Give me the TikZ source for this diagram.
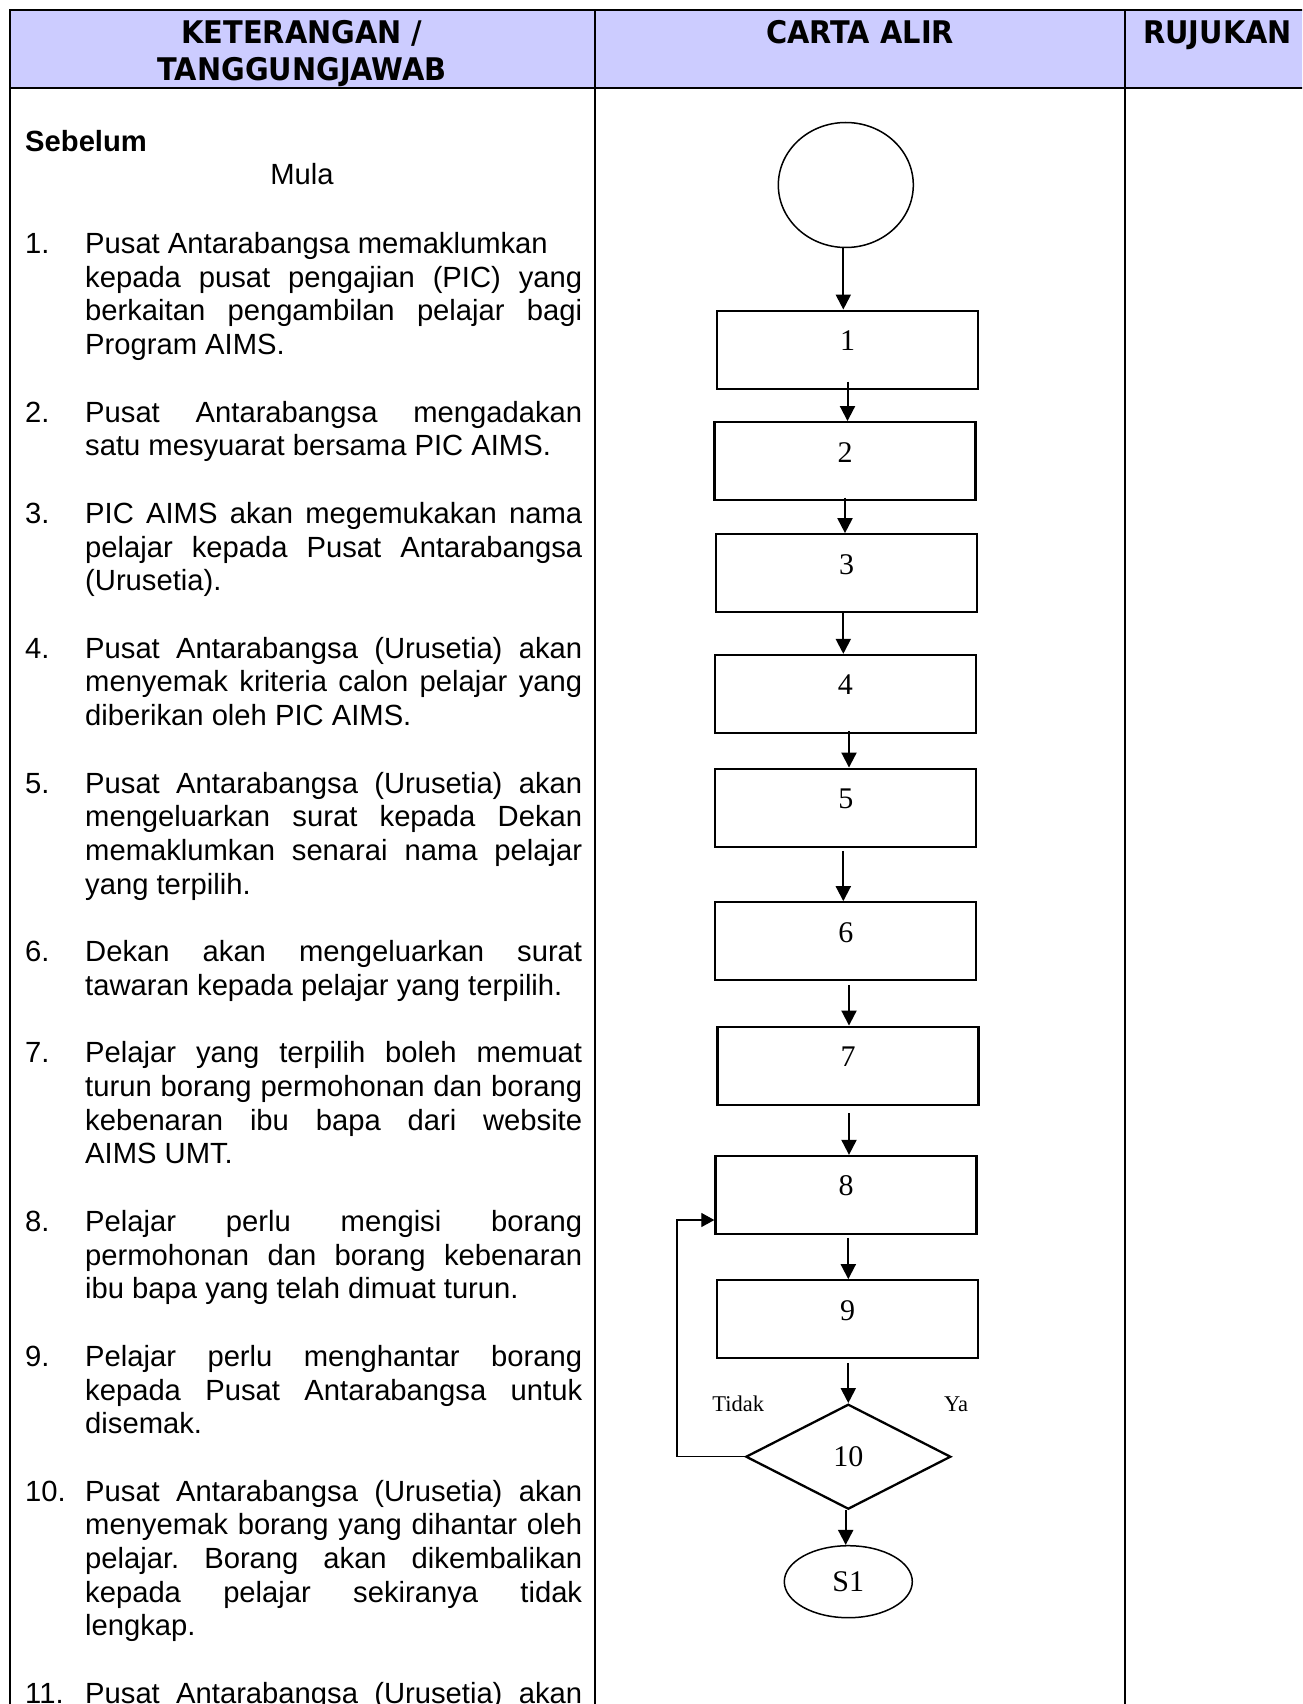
\documentclass[tikz,border=0pt]{standalone}
\usepackage{fontspec}
\setmainfont{Liberation Sans}
\newfontfamily\hdrfont[FakeStretch=0.925]{DejaVu Sans}
\newfontfamily\tmsfont{Liberation Serif}
\usetikzlibrary{shapes.geometric,arrows.meta}
\definecolor{hdrfill}{RGB}{204,204,255}
\frenchspacing
\newcommand\bodyfont{\fontsize{29.2pt}{33.72pt}\selectfont}
\newcommand\jline[1]{\hbox to\hsize{#1}}
\newcommand\lline[1]{\hbox to\hsize{#1\hfil}}
\tikzset{
  tbl/.style={line width=2pt},
  hdr/.style={font=\hdrfont\bfseries\fontsize{31.2pt}{38pt}\selectfont, inner sep=0pt, anchor=base},
  numtxt/.style={font=\bodyfont, inner sep=0pt, anchor=base west},
  parx/.style={font=\bodyfont, inner sep=0pt, anchor=base west},
  box/.style={draw, line width=2.3pt, minimum width=261pt, minimum height=78pt, inner sep=0pt},
  digit/.style={font=\tmsfont\fontsize{30pt}{36pt}\selectfont, inner sep=0pt, anchor=base},
  small/.style={font=\tmsfont\fontsize{22.5pt}{27pt}\selectfont, inner sep=0pt, anchor=base},
  arr/.style={line width=2pt, -{Triangle[width=15pt,length=15pt]}},
  looparr/.style={line width=1.2pt, -{Triangle[width=14pt,length=13pt]}},
}
\begin{document}
\begin{tikzpicture}[x=1pt,y=-1pt]
\useasboundingbox (0,0) rectangle (1302,1704);
\clip (0,0) rectangle (1302,1704);
% table
\fill[hdrfill] (10,10) rectangle (1320,88.3);
\draw[tbl] (1320,10) -- (10,10) -- (10,1720);
\draw[tbl] (10,88.3) -- (1320,88.3);
\draw[tbl] (595,10) -- (595,1720);
\draw[tbl] (1125,10) -- (1125,1720);
% headers
\node[hdr] (h1a) at (302,43.3) {KETERANGAN /};
\node[hdr] (h1b) at (302,81) {TANGGUNGJAWAB};
\node[hdr] (h2) at (860,43.3) {CARTA ALIR};
\node[hdr, anchor=base west] (h3) at (1143,43.3) {RUJUKAN};
% text column
\node[numtxt, font=\bodyfont\bfseries] (seb) at (25,151.7) {Sebelum};
\node[parx, anchor=base] (mula) at (302,185) {Mula};

\node[numtxt] (n1) at (25,253.5) {1.};
\node[parx] (p1) at (85,253.5) {\vtop{\hsize=497pt
  \lline{Pusat Antarabangsa memaklumkan}
  \jline{kepada pusat pengajian (PIC) yang}
  \jline{berkaitan pengambilan pelajar bagi}
  \lline{Program AIMS.}}};

\node[numtxt] (n2) at (25,422.1) {2.};
\node[parx] (p2) at (85,422.1) {\vtop{\hsize=497pt
  \jline{Pusat Antarabangsa mengadakan}
  \lline{satu mesyuarat bersama PIC AIMS.}}};

\node[numtxt] (n3) at (25,523.3) {3.};
\node[parx] (p3) at (85,523.3) {\vtop{\hsize=497pt
  \jline{PIC AIMS akan megemukakan nama}
  \jline{pelajar kepada Pusat Antarabangsa}
  \lline{(Urusetia).}}};

\node[numtxt] (n4) at (25,658.1) {4.};
\node[parx] (p4) at (85,658.1) {\vtop{\hsize=497pt
  \jline{Pusat Antarabangsa (Urusetia) akan}
  \jline{menyemak kriteria calon pelajar yang}
  \lline{diberikan oleh PIC AIMS.}}};

\node[numtxt] (n5) at (25,793.0) {5.};
\node[parx] (p5) at (85,793.0) {\vtop{\hsize=497pt
  \jline{Pusat Antarabangsa (Urusetia) akan}
  \jline{mengeluarkan surat kepada Dekan}
  \jline{memaklumkan senarai nama pelajar}
  \lline{yang terpilih.}}};

\node[numtxt] (n6) at (25,961.6) {6.};
\node[parx] (p6) at (85,961.6) {\vtop{\hsize=497pt
  \jline{Dekan akan mengeluarkan surat}
  \lline{tawaran kepada pelajar yang terpilih.}}};

\node[numtxt] (n7) at (25,1062.8) {7.};
\node[parx] (p7) at (85,1062.8) {\vtop{\hsize=497pt
  \jline{Pelajar yang terpilih boleh memuat}
  \jline{turun borang permohonan dan borang}
  \jline{kebenaran ibu bapa dari website}
  \lline{AIMS UMT.}}};

\node[numtxt] (n8) at (25,1231.4) {8.};
\node[parx] (p8) at (85,1231.4) {\vtop{\hsize=497pt
  \jline{Pelajar perlu mengisi borang}
  \jline{permohonan dan borang kebenaran}
  \lline{ibu bapa yang telah dimuat turun.}}};

\node[numtxt] (n9) at (25,1366.3) {9.};
\node[parx] (p9) at (85,1366.3) {\vtop{\hsize=497pt
  \jline{Pelajar perlu menghantar borang}
  \jline{kepada Pusat Antarabangsa untuk}
  \lline{disemak.}}};

\node[numtxt] (n10) at (25,1501.1) {10.};
\node[parx] (p10) at (85,1501.1) {\vtop{\hsize=497pt
  \jline{Pusat Antarabangsa (Urusetia) akan}
  \jline{menyemak borang yang dihantar oleh}
  \jline{pelajar. Borang akan dikembalikan}
  \jline{kepada pelajar sekiranya tidak}
  \lline{lengkap.}}};

\node[numtxt] (n11) at (25,1703.5) {11.};
\node[parx] (p11) at (85,1703.5) {\vtop{\hsize=497pt
  \jline{Pusat Antarabangsa (Urusetia) akan}}};

% flowchart
\node[draw, ellipse, line width=1.5pt, minimum width=135pt, minimum height=125pt, inner sep=0pt] (c) at (845.8,185) {};
\node[box] (b1) at (847.5,349.7) {};
\node[box] (b2) at (845,461.2) {};
\node[box] (b3) at (846.5,573.3) {};
\node[box] (b4) at (845.3,694) {};
\node[box] (b5) at (845.8,807.7) {};
\node[box] (b6) at (845.8,941.3) {};
\node[box] (b7) at (848,1065.7) {};
\node[box] (b8) at (846,1195) {};
\node[box] (b9) at (847.7,1319.3) {};
\node[draw, diamond, line width=2.3pt, minimum width=205pt, minimum height=105pt, inner sep=0pt,
      font=\tmsfont\fontsize{30pt}{36pt}\selectfont] (d) at (848.3,1456.7) {10};
\node[draw, ellipse, line width=1.5pt, minimum width=128pt, minimum height=72pt, inner sep=0pt,
      font=\tmsfont\fontsize{30pt}{36pt}\selectfont] (s1) at (848.3,1581.7) {\raisebox{-4pt}{S1}};

\node[digit] (t1) at ([yshift=-41pt]b1.north) {1};
\node[digit] (t2) at ([yshift=-41pt]b2.north) {2};
\node[digit] (t3) at ([yshift=-41pt]b3.north) {3};
\node[digit] (t4) at ([yshift=-41pt]b4.north) {4};
\node[digit] (t5) at ([yshift=-41pt]b5.north) {5};
\node[digit] (t6) at ([yshift=-41pt]b6.north) {6};
\node[digit] (t7) at ([yshift=-41pt]b7.north) {7};
\node[digit] (t8) at ([yshift=-41pt]b8.north) {8};
\node[digit] (t9) at ([yshift=-41pt]b9.north) {9};

\node[small] (tidak) at (738.3,1411.7) {Tidak};
\node[small] (ya) at (956,1411.7) {Ya};

% connectors
\coordinate (a0) at ([xshift=-2.5pt]c.south);
\draw[arr] (a0) -- (a0 |- b1.north);
\coordinate (a1) at ([yshift=8.3pt]b1.south);
\draw[arr] (a1) -- (a1 |- b2.north);
\coordinate (a2) at ([yshift=3.7pt]b2.south);
\draw[arr] (a2) -- (a2 |- b3.north);
\coordinate (a3) at ([xshift=-3.2pt]b3.south);
\draw[arr] (a3) -- (a3 |- b4.north);
\coordinate (a4) at ([xshift=3.7pt,yshift=3pt]b4.south);
\draw[arr] (a4) -- (a4 |- b5.north);
\coordinate (a5) at ([xshift=-2.5pt,yshift=-3pt]b5.south);
\draw[arr] (a5) -- (a5 |- b6.north);
\coordinate (a6) at ([xshift=3.2pt,yshift=-3.3pt]b6.south);
\draw[arr] (a6) -- (a6 |- b7.north);
\coordinate (a7) at ([xshift=1pt,yshift=-7.6pt]b7.south);
\draw[arr] (a7) -- (a7 |- b8.north);
\coordinate (a8) at ([xshift=2.3pt,yshift=-2.7pt]b8.south);
\draw[arr] (a8) -- (a8 |- b9.north);
\coordinate (a9) at ([xshift=0.6pt,yshift=-3.4pt]b9.south);
\draw[arr] (a9) -- (a9 |- d.north);
\coordinate (a10) at ([xshift=-2.6pt]d.south);
\draw[arr] (a10) -- (a10 |- s1.north);
\draw[looparr] (d.west) -- ++(-67.7,0) |- ([yshift=-25pt]b8.west);
\end{tikzpicture}
\end{document}
